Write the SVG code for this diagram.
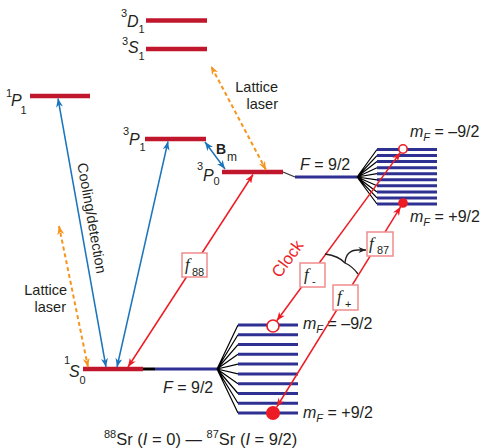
<svg xmlns="http://www.w3.org/2000/svg" width="484" height="448" viewBox="0 0 484 448">
<defs>
<style>
text{font-family:"Liberation Sans","DejaVu Sans",sans-serif;fill:#231f20}
.lvl{stroke:#c1172c;stroke-width:4.5}
.nav{stroke:#2e3192;stroke-width:3}
.fan{stroke:#000;stroke-width:1.2;fill:none}
.blue{stroke:#1b75bc;stroke-width:1.5;fill:none}
.red{stroke:#ed1c24;stroke-width:1.5;fill:none}
.org{stroke:#f7941d;stroke-width:2;fill:none;stroke-dasharray:4 3}
.box{fill:#fff;stroke:#f08d8d;stroke-width:1.5}
.it{font-style:italic}
.ser{font-family:"Liberation Serif","DejaVu Serif",serif;font-style:italic}
</style>
<marker id="mb" viewBox="0 0 10 8" refX="10" refY="4" markerWidth="9" markerHeight="7" markerUnits="userSpaceOnUse" orient="auto-start-reverse"><path d="M0,0 L10,4 L0,8 L3,4 z" fill="#1b75bc"/></marker>
<marker id="mr" viewBox="0 0 10 8" refX="10" refY="4" markerWidth="9" markerHeight="7" markerUnits="userSpaceOnUse" orient="auto-start-reverse"><path d="M0,0 L10,4 L0,8 L3,4 z" fill="#ed1c24"/></marker>
<marker id="mo" viewBox="0 0 10 8" refX="10" refY="4" markerWidth="9" markerHeight="7" markerUnits="userSpaceOnUse" orient="auto-start-reverse"><path d="M0,0 L10,4 L0,8 L3,4 z" fill="#f7941d"/></marker>
<marker id="mk" viewBox="0 0 10 8" refX="10" refY="4" markerWidth="8" markerHeight="6" markerUnits="userSpaceOnUse" orient="auto"><path d="M0,0 L10,4 L0,8 L3,4 z" fill="#231f20"/></marker>
</defs>
<rect width="484" height="448" fill="#fff"/>

<g id="level-3D1">
<line class="lvl" x1="146" y1="20.5" x2="207" y2="20.5"/>
<text x="121" y="17" font-size="11">3</text><text x="127" y="27" font-size="16" class="it">D</text><text x="138.5" y="33" font-size="11">1</text>
</g>
<g id="level-3S1">
<line class="lvl" x1="146" y1="49" x2="207" y2="49"/>
<text x="122" y="45" font-size="11">3</text><text x="128" y="53" font-size="16" class="it">S</text><text x="138.5" y="60" font-size="11">1</text>
</g>
<g id="level-1P1">
<line class="lvl" x1="30" y1="96" x2="90" y2="96"/>
<text x="6" y="97" font-size="11">1</text><text x="11" y="106" font-size="16" class="it">P</text><text x="20.5" y="114" font-size="11">1</text>
</g>
<g id="level-3P1">
<line class="lvl" x1="145" y1="139" x2="206" y2="139"/>
<text x="123" y="135" font-size="11">3</text><text x="129" y="145" font-size="16" class="it">P</text><text x="139.5" y="151" font-size="11">1</text>
</g>
<g id="level-3P0">
<line class="lvl" x1="222" y1="172" x2="283" y2="172"/>
<text x="197" y="170" font-size="11">3</text><text x="203" y="181" font-size="16" class="it">P</text><text x="213.5" y="185" font-size="11">0</text>
</g>
<g id="level-1S0">
<line class="lvl" x1="83" y1="369" x2="143" y2="369"/>
<text x="64" y="364" font-size="11">1</text><text x="69" y="377" font-size="16" class="it">S</text><text x="79.5" y="384" font-size="11">0</text>
</g>

<g id="upper-F92">
<line x1="283" y1="172" x2="295" y2="177" stroke="#333" stroke-width="1.3"/>
<line class="nav" x1="295" y1="177" x2="357" y2="177" stroke-width="4"/>
<text x="300" y="170" font-size="16"><tspan class="it">F</tspan> = 9/2</text>
<path class="fan" d="M357,177 L377,149.5 M357,177 L377,155.6 M357,177 L377,161.6 M357,177 L377,167.7 M357,177 L377,173.7 M357,177 L377,179.8 M357,177 L377,185.8 M357,177 L377,191.9 M357,177 L377,197.9 M357,177 L377,204"/>
<path class="nav" d="M377,149.5 H437 M377,155.6 H437 M377,161.6 H437 M377,167.7 H437 M377,173.7 H437 M377,179.8 H437 M377,185.8 H437 M377,191.9 H437 M377,197.9 H437 M377,204 H437"/>
<text x="410" y="137" font-size="16"><tspan class="it">m</tspan><tspan font-size="11" class="it" dy="4">F</tspan><tspan dy="-4"> = –9/2</tspan></text>
<text x="410" y="222" font-size="16"><tspan class="it">m</tspan><tspan font-size="11" class="it" dy="4">F</tspan><tspan dy="-4"> = +9/2</tspan></text>
</g>

<g id="lower-F92">
<line x1="143" y1="369" x2="155" y2="369" stroke="#000" stroke-width="3"/>
<line class="nav" x1="155" y1="369" x2="217" y2="369" stroke-width="4"/>
<text x="163" y="393" font-size="16"><tspan class="it">F</tspan> = 9/2</text>
<path class="fan" d="M217,369 L238,325 M217,369 L238,334.8 M217,369 L238,344.6 M217,369 L238,354.3 M217,369 L238,364.1 M217,369 L238,373.9 M217,369 L238,383.7 M217,369 L238,393.5 M217,369 L238,403.2 M217,369 L238,413"/>
<path class="nav" d="M238,325 H298 M238,334.8 H298 M238,344.6 H298 M238,354.3 H298 M238,364.1 H298 M238,373.9 H298 M238,383.7 H298 M238,393.5 H298 M238,403.2 H298 M238,413 H298"/>
<text x="303" y="329" font-size="16"><tspan class="it">m</tspan><tspan font-size="11" class="it" dy="4">F</tspan><tspan dy="-4"> = –9/2</tspan></text>
<text x="303" y="418" font-size="16"><tspan class="it">m</tspan><tspan font-size="11" class="it" dy="4">F</tspan><tspan dy="-4"> = +9/2</tspan></text>
</g>

<g id="connectors">
<line class="blue" x1="106" y1="367" x2="58" y2="98.5" marker-start="url(#mb)" marker-end="url(#mb)"/>
<line class="blue" x1="117" y1="367" x2="168" y2="141.5" marker-start="url(#mb)" marker-end="url(#mb)"/>
<line class="blue" x1="205" y1="142" x2="225" y2="169" marker-start="url(#mb)" marker-end="url(#mb)"/>
<line class="red" x1="128" y1="367" x2="253" y2="174.5" marker-start="url(#mr)" marker-end="url(#mr)"/>
<line class="org" x1="88" y1="367" x2="59" y2="226" marker-start="url(#mo)" marker-end="url(#mo)"/>
<line class="org" x1="266" y1="170" x2="211" y2="66" marker-start="url(#mo)" marker-end="url(#mo)"/>
<line class="red" x1="400.3" y1="152.6" x2="276.8" y2="320.8" marker-start="url(#mr)" marker-end="url(#mr)"/>
<line class="red" x1="400.6" y1="206.8" x2="276.7" y2="407" marker-start="url(#mr)" marker-end="url(#mr)"/>
<path d="M325,254 Q339,256 345,263 Q352,266 358,274" fill="none" stroke="#231f20" stroke-width="1.3"/>
<path d="M345,263 Q346,250 358,250 L366,250" fill="none" stroke="#231f20" stroke-width="1.3" marker-end="url(#mk)"/>
</g>

<g id="circles">
<circle cx="403" cy="149" r="4.2" fill="#fff" stroke="#ed1c24" stroke-width="1.6"/>
<circle cx="403" cy="203" r="4.8" fill="#ed1c24"/>
<circle cx="273" cy="326" r="6" fill="#fff" stroke="#ed1c24" stroke-width="1.6"/>
<circle cx="273" cy="413" r="7" fill="#ed1c24"/>
</g>

<g id="label-f88">
<rect class="box" x="182" y="253" width="25" height="24"/>
<text x="185" y="270" font-size="17" class="ser">f</text><text x="192" y="276" font-size="11">88</text>
</g>
<g id="label-fminus">
<rect class="box" x="300" y="263" width="25" height="24"/>
<text x="304" y="280" font-size="17" class="ser">f</text><text x="312" y="285" font-size="11">-</text>
</g>
<g id="label-fplus">
<rect class="box" x="333" y="285" width="25" height="25"/>
<text x="337" y="302" font-size="17" class="ser">f</text><text x="345" y="308" font-size="11">+</text>
</g>
<g id="label-f87">
<rect class="box" x="367" y="232" width="26" height="24"/>
<text x="369" y="249" font-size="17" class="ser">f</text><text x="377" y="254" font-size="11">87</text>
</g>

<g id="labels">
<text x="87" y="219" font-size="14.5" text-anchor="middle" transform="rotate(80 87 219)">Cooling/detection</text>
<text x="67" y="295" font-size="14.5" text-anchor="end">Lattice</text>
<text x="66" y="311.5" font-size="14.5" text-anchor="end">laser</text>
<text x="278" y="92" font-size="14.5" text-anchor="end">Lattice</text>
<text x="278" y="108.5" font-size="14.5" text-anchor="end">laser</text>
<text x="216" y="154" font-size="14" font-weight="bold">B</text><text x="227" y="161" font-size="12">m</text>
<text x="292" y="262" font-size="16.5" text-anchor="middle" style="fill:#ed1c24" transform="rotate(-53.7 292 262)">Clock</text>
<text x="104" y="445" font-size="16.5"><tspan font-size="11" dy="-7">88</tspan><tspan dy="7">Sr (</tspan><tspan class="it">I</tspan> = 0) — <tspan font-size="11" dy="-7">87</tspan><tspan dy="7">Sr (</tspan><tspan class="it">I</tspan> = 9/2)</text>
</g>
</svg>
